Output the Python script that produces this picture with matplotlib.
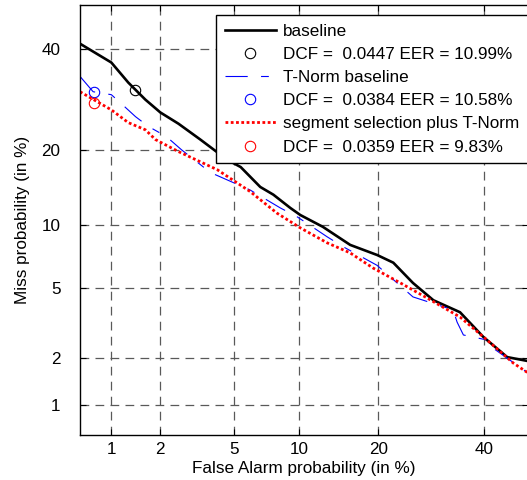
import math
from statistics import NormalDist

import matplotlib
matplotlib.use("Agg")
import matplotlib.pyplot as plt
import numpy as np

plt.rcParams['font.family'] = ['Liberation Sans', 'DejaVu Sans']

# DET curve points, both axes in %
black_fa = [0.62, 1.0, 1.28, 1.63, 2.0, 2.54, 3.35, 4.63, 5.4, 6.7, 7.7, 9.15, 10.1,
            12.5, 15.9, 19.8, 22.4, 25.8, 29.6, 34.9, 39.8, 45.0, 49.6]
black_miss = [41.1, 36.9, 32.6, 29.1, 26.6, 24.5, 21.7, 18.4, 17.3, 14.5, 13.5, 11.9, 11.1,
              9.85, 8.15, 7.3, 6.7, 5.3, 4.3, 3.7, 2.68, 2.03, 1.92]

blue_fa = [0.62, 0.76, 1.0, 1.14, 1.42, 1.7, 2.17, 2.64, 3.79, 6.0, 8.27, 9.8, 13.0,
           15.0, 19.8, 25.8, 33.5, 34.3, 35.6, 40.6, 41.9, 49.6]
blue_miss = [33.9, 30.7, 30.1, 28.5, 25.8, 24.0, 22.2, 20.0, 16.5, 14.1, 11.9, 10.9, 8.88,
             7.98, 6.5, 4.48, 3.81, 3.26, 2.75, 2.57, 2.3, 1.62]

red_fa = [0.62, 1.0, 1.28, 1.63, 1.87, 2.54, 4.12, 6.0, 8.0, 10.1, 13.0, 15.9, 19.2,
          23.6, 28.4, 34.9, 40.6, 46.3, 49.6]
red_miss = [30.7, 27.1, 24.7, 23.4, 21.7, 19.7, 16.9, 13.9, 11.3, 9.75, 8.33, 7.47, 6.3,
            5.3, 4.42, 3.48, 2.57, 1.87, 1.62]

# operating points (min DCF)
dcf_fa = [1.40, 0.77, 0.77]
dcf_miss = [31.1, 30.7, 28.5]
dcf_labels = ['DCF =  0.0447 EER = 10.99%',
              'DCF =  0.0384 EER = 10.58%',
              'DCF =  0.0359 EER = 9.83%']
curve_labels = ['baseline', 'T-Norm baseline', 'segment selection plus T-Norm']

ticks = [1, 2, 5, 10, 20, 40]
tick_labels = ['1', '2', '5', '10', '20', '40']

_nd = NormalDist()
_ppf = np.vectorize(lambda p: _nd.inv_cdf(p), otypes=[float])
_erf = np.vectorize(math.erf, otypes=[float])


def fwd(v):
    v = np.clip(np.asarray(v, dtype=float), 1e-6, 100 - 1e-6)
    return _ppf(v / 100.0)


def inv(z):
    z = np.asarray(z, dtype=float)
    return 50.0 * (1.0 + _erf(z / math.sqrt(2.0)))


FS = 12.3

fig = plt.figure(figsize=(5.27, 4.8), dpi=100)
ax = fig.add_axes([80 / 527, 1 - 435 / 480, 448 / 527, 430 / 480])
ax.set_xscale('function', functions=(fwd, inv))
ax.set_yscale('function', functions=(fwd, inv))

ax.plot(black_fa, black_miss, color='black', lw=1.9, label=curve_labels[0])
ax.plot(dcf_fa[0], dcf_miss[0], 'o', mfc='none', mec='black', ms=7.5, mew=0.8, label=dcf_labels[0])
ax.plot(blue_fa, blue_miss, color='blue', lw=0.8, ls=(0, (20, 12, 7, 12)), label=curve_labels[1])
ax.plot(dcf_fa[1], dcf_miss[1], 'o', mfc='none', mec='blue', ms=7.5, mew=0.8, label=dcf_labels[1])
ax.plot(red_fa, red_miss, color='red', lw=2.0, ls=(0, (1, 0.9)), label=curve_labels[2])
ax.plot(dcf_fa[2], dcf_miss[2], 'o', mfc='none', mec='red', ms=7.5, mew=0.8, label=dcf_labels[2])

ax.set_xlim(0.62, 49.6)
ax.set_ylim(0.62, 50)
ax.set_xticks(ticks)
ax.set_xticklabels(tick_labels)
ax.set_yticks(ticks)
ax.set_yticklabels(tick_labels)
ax.minorticks_off()
ax.tick_params(direction='in', length=4, width=0.8, top=True, right=True, labelsize=FS)
ax.tick_params(axis='y', pad=14)
ax.tick_params(axis='x', pad=5)
ax.grid(True, color='0.35', lw=0.9, ls=(0, (7, 5)))
for s in ax.spines.values():
    s.set_linewidth(1.0)

ax.set_xlabel('False Alarm probability (in %)', fontsize=FS, labelpad=3)
ax.set_ylabel('Miss probability (in %)', fontsize=FS, labelpad=8)

leg = ax.legend(loc='upper right', bbox_to_anchor=(1.0, 1 - 10 / 430), borderaxespad=0,
                fontsize=FS, fancybox=False, framealpha=1, edgecolor='black',
                handlelength=3.0, handletextpad=0.42, labelspacing=0.48, borderpad=0.5)
leg.get_frame().set_linewidth(1.0)

fig.savefig('out.png', dpi=100)
